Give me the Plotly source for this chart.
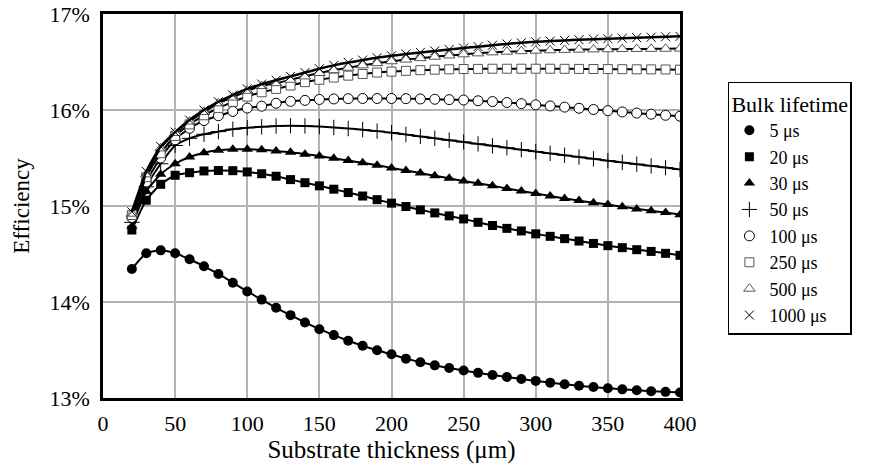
import plotly.graph_objects as go

thickness = list(range(20, 401, 10))

eff_5 = [14.344, 14.507, 14.538, 14.507, 14.445, 14.372, 14.292, 14.201, 14.11, 14.025,
         13.94, 13.863, 13.787, 13.717, 13.655, 13.597, 13.545, 13.497, 13.455, 13.41,
         13.373, 13.34, 13.312, 13.287, 13.262, 13.24, 13.218, 13.198, 13.178, 13.16,
         13.143, 13.128, 13.114, 13.102, 13.09, 13.08, 13.071, 13.064, 13.058]
eff_20 = [14.75, 15.06, 15.226, 15.32, 15.347, 15.365, 15.37, 15.368, 15.355, 15.336,
          15.31, 15.275, 15.243, 15.21, 15.175, 15.14, 15.104, 15.066, 15.03, 14.995,
          14.96, 14.928, 14.897, 14.865, 14.83, 14.797, 14.767, 14.74, 14.71, 14.684,
          14.66, 14.635, 14.61, 14.587, 14.566, 14.545, 14.527, 14.507, 14.486]
eff_30 = [14.79, 15.15, 15.33, 15.44, 15.51, 15.555, 15.58, 15.59, 15.592, 15.585,
          15.574, 15.56, 15.54, 15.52, 15.497, 15.473, 15.45, 15.424, 15.397, 15.37,
          15.343, 15.315, 15.288, 15.26, 15.236, 15.21, 15.183, 15.157, 15.13, 15.104,
          15.079, 15.056, 15.035, 15.015, 14.992, 14.97, 14.95, 14.932, 14.91]
eff_50 = [14.83, 15.2, 15.44, 15.63, 15.705, 15.747, 15.775, 15.8, 15.815, 15.825,
          15.833, 15.836, 15.834, 15.828, 15.818, 15.807, 15.795, 15.78, 15.764, 15.745,
          15.725, 15.705, 15.686, 15.667, 15.647, 15.627, 15.607, 15.587, 15.567, 15.548,
          15.529, 15.51, 15.491, 15.472, 15.454, 15.436, 15.418, 15.4, 15.38]
eff_100 = [14.88, 15.25, 15.5, 15.69, 15.81, 15.89, 15.94, 15.985, 16.02, 16.04,
           16.07, 16.09, 16.1, 16.11, 16.115, 16.118, 16.12, 16.12, 16.12, 16.118,
           16.115, 16.112, 16.108, 16.104, 16.096, 16.088, 16.078, 16.066, 16.054, 16.042,
           16.03, 16.018, 16.005, 15.993, 15.98, 15.968, 15.956, 15.945, 15.935]
eff_250 = [14.906, 15.3, 15.55, 15.73, 15.85, 15.945, 16.02, 16.085, 16.14, 16.185,
           16.22, 16.255, 16.29, 16.315, 16.338, 16.358, 16.375, 16.39, 16.4, 16.408,
           16.415, 16.42, 16.424, 16.427, 16.428, 16.43, 16.43, 16.43, 16.43, 16.43,
           16.429, 16.428, 16.427, 16.426, 16.425, 16.424, 16.423, 16.422, 16.42]
eff_500 = [14.92, 15.33, 15.6, 15.76, 15.88, 15.98, 16.07, 16.13, 16.2, 16.25,
           16.28, 16.315, 16.35, 16.385, 16.415, 16.44, 16.465, 16.488, 16.508, 16.525,
           16.54, 16.555, 16.568, 16.58, 16.59, 16.6, 16.607, 16.613, 16.618, 16.622,
           16.626, 16.629, 16.631, 16.633, 16.635, 16.636, 16.637, 16.638, 16.64]
eff_1000 = [14.94, 15.36, 15.62, 15.77, 15.896, 16.0, 16.086, 16.156, 16.22, 16.27,
            16.31, 16.35, 16.39, 16.43, 16.465, 16.495, 16.52, 16.545, 16.565, 16.583,
            16.6, 16.615, 16.63, 16.645, 16.66, 16.675, 16.688, 16.7, 16.71, 16.718,
            16.725, 16.732, 16.738, 16.743, 16.748, 16.753, 16.758, 16.763, 16.767]

labels = ["5 μs", "20 μs", "30 μs", "50 μs", "100 μs", "250 μs", "500 μs", "1000 μs"]
series = [eff_5, eff_20, eff_30, eff_50, eff_100, eff_250, eff_500, eff_1000]

x_ticks = [0, 50, 100, 150, 200, 250, 300, 350, 400]
y_ticks = [13, 14, 15, 16, 17]

styles = [
    dict(symbol="circle", size=10, color="black", line=dict(color="black", width=0)),
    dict(symbol="square", size=9, color="black", line=dict(color="black", width=0)),
    dict(symbol="triangle-up", size=10, color="black", line=dict(color="black", width=0)),
    dict(symbol="cross-thin", size=11, color="black", line=dict(color="black", width=1)),
    dict(symbol="circle", size=10, color="white", line=dict(color="black", width=1)),
    dict(symbol="square", size=9, color="white", line=dict(color="#555555", width=1)),
    dict(symbol="triangle-up", size=10, color="white", line=dict(color="#555555", width=1)),
    dict(symbol="x-thin", size=9, color="black", line=dict(color="black", width=1)),
]
line_widths = [2, 2, 2, 2, 2, 2, 2, 2.5]

FONT = "Liberation Serif"

fig = go.Figure()
for name, vals, st, lw in zip(labels, series, styles, line_widths):
    fig.add_trace(go.Scatter(
        x=thickness, y=vals, name=name, mode="lines", showlegend=False,
        line=dict(color="black", width=lw, shape="spline", smoothing=0.6),
        hoverinfo="skip",
    ))
    fig.add_trace(go.Scatter(
        x=thickness, y=vals, name=name, mode="markers", marker=st,
    ))

fig.update_layout(
    width=875, height=473,
    margin=dict(l=103, r=195, t=14, b=75),
    paper_bgcolor="white", plot_bgcolor="white",
    font=dict(family=FONT, size=22, color="black"),
    showlegend=True,
    legend=dict(
        title=dict(text="Bulk lifetime", font=dict(family=FONT, size=22)),
        x=1.083, y=0.823, xanchor="left", yanchor="top",
        bordercolor="black", borderwidth=1.5, bgcolor="white",
        font=dict(family=FONT, size=18), tracegroupgap=0,
        itemsizing="trace",
    ),
    xaxis=dict(
        range=[0, 400], tickvals=x_ticks, ticktext=[str(v) for v in x_ticks],
        showgrid=True, gridcolor="#b3b3b3", gridwidth=1.5,
        showline=True, linecolor="black", linewidth=2.5, mirror=True,
        ticks="", zeroline=False, automargin=False, ticklabelstandoff=4,
        ticklabeloverflow="allow",
        tickfont=dict(family=FONT, size=22),
        title=dict(text="Substrate thickness (μm)", font=dict(family=FONT, size=25), standoff=5),
    ),
    yaxis=dict(
        range=[13, 17], tickvals=y_ticks, ticktext=[f"{v}%" for v in y_ticks],
        showgrid=True, gridcolor="#b3b3b3", gridwidth=1.5,
        showline=True, linecolor="black", linewidth=2.5, mirror=True,
        ticks="", zeroline=False, automargin=False, ticklabelstandoff=6,
        ticklabeloverflow="allow",
        tickfont=dict(family=FONT, size=22),
        title=dict(text="Efficiency", font=dict(family=FONT, size=23), standoff=14),
    ),
)

fig.write_html("out.html")
